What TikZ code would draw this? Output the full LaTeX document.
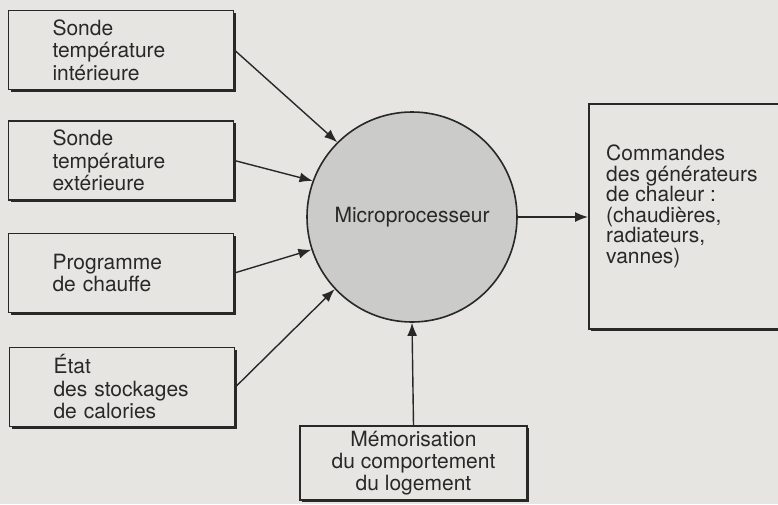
\documentclass[tikz,border=0pt]{standalone}
\usepackage{fontspec}
\setmainfont{TeX Gyre Heros}
\usetikzlibrary{arrows.meta,shadows}
\definecolor{paper}{RGB}{230,229,226}
\definecolor{ink}{RGB}{40,40,40}
\definecolor{chip}{RGB}{203,203,202}

\begin{document}
\begin{tikzpicture}[x=1pt,y=-1pt,
    capteur/.style={draw=ink, line width=1.8pt, fill=paper,
        general shadow={fill=ink, shadow xshift=2.2pt, shadow yshift=-2.2pt}},
    entree/.style={capteur, minimum width=225pt, minimum height=79pt,
        text width=137pt, align=left, inner xsep=0pt},
    fleche/.style={draw=ink, line width=1.4pt, -{Latex[length=13pt,width=10pt]}},
    font=\fontsize{21}{22.5}\selectfont, text=ink]
    \useasboundingbox[fill=paper] (0,0) rectangle (778,504);
    \node[entree] (sint) at (121,50) {Sonde\\température\\intérieure};
    \node[entree] (sext) at (121,160.5) {Sonde\\température\\extérieure};
    \node[entree] (prog) at (121,273) {Programme\\de chauffe};
    \node[entree] (stock) at (122,387) {État\\des stockages\\de calories};
    \node[circle, draw=ink, line width=1.6pt, fill=chip, minimum size=210pt] (micro) at (412,217) {Microprocesseur};
    \node[capteur, minimum width=230pt, minimum height=225pt, anchor=north west] (cmd) at (588,103) {};
    \node[anchor=north west, align=left, inner sep=0pt, font=\fontsize{21}{20.5}\selectfont] (cmdtxt) at (606,145)
        {Commandes\\des générateurs\\de chaleur :\\(chaudières,\\radiateurs,\\vannes)};
    \node[capteur, minimum width=227pt, minimum height=74pt, align=center, font=\fontsize{21}{22}\selectfont] (memo) at (413.5,463)
        {Mémorisation\\du comportement\\du logement};
    \draw[fleche] (sint.east) -- (micro.135);
    \draw[fleche] (sext.east) -- (micro.160);
    \draw[fleche] (prog.east) -- (micro.198);
    \draw[fleche] (stock.east) -- (micro.223);
    \draw[fleche] (micro.east) -- (micro.east -| cmd.west);
    \draw[fleche] (memo.north) -- (micro.south);
\end{tikzpicture}
\end{document}
